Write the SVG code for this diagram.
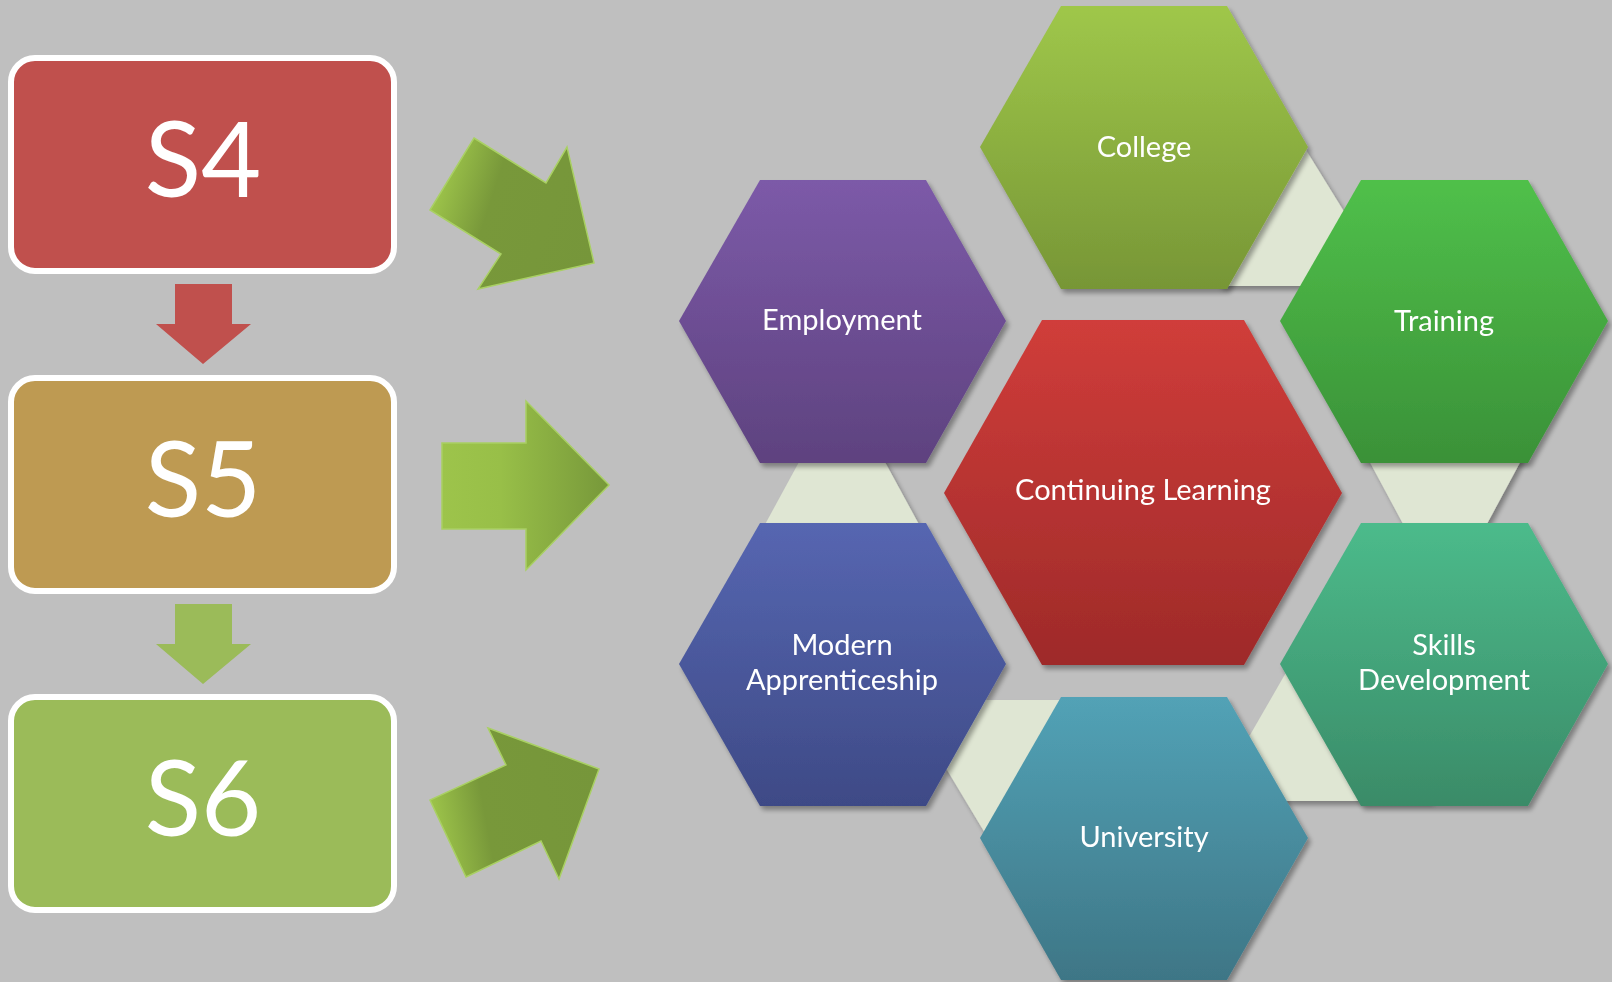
<svg xmlns="http://www.w3.org/2000/svg" width="1612" height="982" viewBox="0 0 1612 982">
<defs>
<style>
.box{stroke:#ffffff;stroke-width:6}
.big{font-family:Lato,"Liberation Sans",sans-serif;font-size:104px;fill:#ffffff;text-anchor:middle}
.lbl{font-family:Lato,"Liberation Sans",sans-serif;font-size:29px;fill:#ffffff;text-anchor:middle}
.light{fill:#dfe6d3}
.garrow{stroke:#a9d063;stroke-width:1.5;stroke-linejoin:miter}
</style>
<filter id="sh" x="-10%" y="-10%" width="130%" height="130%">
<feGaussianBlur in="SourceAlpha" stdDeviation="2.5"/>
<feOffset dx="3" dy="4" result="b"/>
<feComponentTransfer><feFuncA type="linear" slope="0.35"/></feComponentTransfer>
<feMerge><feMergeNode/><feMergeNode in="SourceGraphic"/></feMerge>
</filter>
<linearGradient id="gA1" x1="430" y1="210" x2="594" y2="263" gradientUnits="userSpaceOnUse">
<stop offset="0" stop-color="#9dc44a"/><stop offset="0.32" stop-color="#78983a"/><stop offset="1" stop-color="#76963a"/>
</linearGradient>
<linearGradient id="gA2" x1="442" y1="0" x2="609" y2="0" gradientUnits="userSpaceOnUse">
<stop offset="0" stop-color="#9dc44b"/><stop offset="0.35" stop-color="#98bf48"/><stop offset="1" stop-color="#77983a"/>
</linearGradient>
<linearGradient id="gA3" x1="430" y1="800" x2="599" y2="769" gradientUnits="userSpaceOnUse">
<stop offset="0" stop-color="#9dc44a"/><stop offset="0.3" stop-color="#78983a"/><stop offset="1" stop-color="#76963a"/>
</linearGradient>
<linearGradient id="gCol" x1="0" y1="0" x2="0" y2="1"><stop offset="0" stop-color="#9fc74a"/><stop offset="1" stop-color="#779636"/></linearGradient>
<linearGradient id="gEmp" x1="0" y1="0" x2="0" y2="1"><stop offset="0" stop-color="#7c5aa8"/><stop offset="1" stop-color="#5e427f"/></linearGradient>
<linearGradient id="gTr" x1="0" y1="0" x2="0" y2="1"><stop offset="0" stop-color="#50c04a"/><stop offset="1" stop-color="#3a9138"/></linearGradient>
<linearGradient id="gCL" x1="0" y1="0" x2="0" y2="1"><stop offset="0" stop-color="#d03d3a"/><stop offset="1" stop-color="#9e2a29"/></linearGradient>
<linearGradient id="gMA" x1="0" y1="0" x2="0" y2="1"><stop offset="0" stop-color="#5666b1"/><stop offset="1" stop-color="#3e4a86"/></linearGradient>
<linearGradient id="gSD" x1="0" y1="0" x2="0" y2="1"><stop offset="0" stop-color="#4cbb8b"/><stop offset="1" stop-color="#3a8b68"/></linearGradient>
<linearGradient id="gUn" x1="0" y1="0" x2="0" y2="1"><stop offset="0" stop-color="#52a2b6"/><stop offset="1" stop-color="#3e7686"/></linearGradient>
</defs>
<rect x="0" y="0" width="1612" height="982" fill="#bfbfbf"/>

<g id="connectors">
<polygon points="175,284 232,284 232,324 251,324 203,364 156,324 175,324" fill="#c0504d"/>
<polygon points="175,604 232,604 232,644 251,644 203,684 156,644 175,644" fill="#9bbb59"/>
<polygon class="garrow" points="474,138 546,183 567,147 594,263 478,289 501,254 430,210" fill="url(#gA1)"/>
<polygon class="garrow" points="442,443 526,443 526,401 609,485 526,570 526,529 442,529" fill="url(#gA2)"/>
<polygon class="garrow" points="488,728 599,769 559,879 541,841 466,877 430,800 506,765" fill="url(#gA3)"/>
<g filter="url(#sh)">
<polygon class="light" points="1306,150 1218,286 1390,286"/>
<polygon class="light" points="842,383 762,530 922,530"/>
<polygon class="light" points="1366,455 1524,455 1445,602"/>
<polygon class="light" points="1322,610 1212,801 1432,801"/>
<polygon class="light" points="905,700 1125,700 1015,883"/>
</g>
</g>

<g id="S4"><rect class="box" x="11" y="58" width="383" height="213" rx="24" fill="#c0504d"/><text class="big" x="203" y="197">S4</text></g>
<g id="S5"><rect class="box" x="11" y="378" width="383" height="213" rx="24" fill="#be9a52"/><text class="big" x="203" y="517">S5</text></g>
<g id="S6"><rect class="box" x="11" y="697" width="383" height="213" rx="24" fill="#9bbb59"/><text class="big" x="203" y="836">S6</text></g>

<g id="college" filter="url(#sh)"><polygon points="980,147 1061,6 1227,6 1308,147 1227,289 1061,289" fill="url(#gCol)"/><text class="lbl" x="1144" y="157">College</text></g>
<g id="employment" filter="url(#sh)"><polygon points="679,321 760,180 926,180 1006,321 926,463 760,463" fill="url(#gEmp)"/><text class="lbl" x="842" y="330">Employment</text></g>
<g id="training" filter="url(#sh)"><polygon points="1280,321 1361,180 1528,180 1608,321 1528,463 1361,463" fill="url(#gTr)"/><text class="lbl" x="1444" y="331">Training</text></g>
<g id="continuing" filter="url(#sh)"><polygon points="944,493 1042,320 1244,320 1342,493 1244,665 1042,665" fill="url(#gCL)"/><text class="lbl" x="1143" y="500">Continuing Learning</text></g>
<g id="modern" filter="url(#sh)"><polygon points="679,664 760,523 926,523 1006,664 926,806 760,806" fill="url(#gMA)"/><text class="lbl" x="842" y="655">Modern</text><text class="lbl" x="842" y="690">Apprenticeship</text></g>
<g id="skills" filter="url(#sh)"><polygon points="1280,664 1361,523 1528,523 1608,664 1528,806 1361,806" fill="url(#gSD)"/><text class="lbl" x="1444" y="655">Skills</text><text class="lbl" x="1444" y="690">Development</text></g>
<g id="university" filter="url(#sh)"><polygon points="980,838 1061,697 1227,697 1308,838 1227,980 1061,980" fill="url(#gUn)"/><text class="lbl" x="1144" y="847">University</text></g>
</svg>
